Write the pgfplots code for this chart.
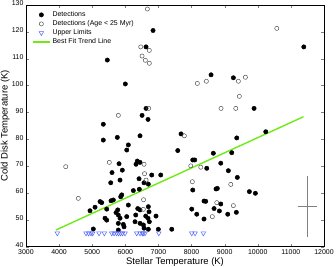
\documentclass[border=0pt]{standalone}
\usepackage{pgfplots}
\pgfplotsset{compat=1.18}
\usepackage{fontspec}
\setmainfont{Liberation Sans}
\definecolor{trend}{RGB}{110,235,20}
\definecolor{ulim}{RGB}{80,100,255}
\definecolor{opengray}{RGB}{80,80,80}
\begin{document}
\begin{tikzpicture}
\begin{axis}[
 scale only axis, width=298bp, height=241.7bp,
 xmin=3000, xmax=12000, ymin=40, ymax=130,
 xtick={3000,4000,...,12000}, ytick={40,50,...,130},
 scaled x ticks=false, scaled y ticks=false,
 tick align=inside, major tick length=3bp,
 /pgf/number format/assume math mode=true,
 /pgf/number format/1000 sep={},
 tick label style={font=\fontsize{7}{8}\selectfont},
 xticklabel style={yshift=0.8bp},
 yticklabel style={xshift=1bp, yshift=1.6bp},
 label style={font=\fontsize{9.5}{11}\selectfont},
 xlabel={Stellar Temperature (K)}, ylabel={Cold Disk Temperature (K)},
 xlabel style={at={(axis description cs:0.5,0)}, anchor=north, yshift=-7.5bp},
 ylabel style={at={(axis description cs:-0.0436,0.5)}, anchor=south},
 axis line style={black, line width=0.6pt},
 legend cell align=left,
 legend style={at={(0.01,0.99)}, anchor=north west, draw=none, fill=none,
   font=\fontsize{7}{8}\selectfont, row sep=-1.5bp},
]
\addplot[only marks, mark=*, mark size=2.2bp, black] coordinates {
(5456,109.5)(6000,100.6)(6837,120.5)(6625,114.4)(5335,85.6)(6505,88.9)(6625,91.5)(6685,87.4)
(5335,79.7)(5758,80.7)(6444,81.3)(6091,77.9)(6042,76.0)(5810,70.9)(6362,71.9)(6444,71.4)
(6323,70.7)(5909,68.5)(5598,67.6)(7069,66.7)(5559,63.8)(5840,64.8)(6414,65.3)(6565,63.8)
(6695,63.3)(6242,60.9)(6423,61.4)(5891,59.3)(5861,58.6)(5637,57.4)(5568,57.1)(5236,56.8)
(5287,56.4)(5085,54.7)(4933,53.4)(5438,54.0)(5770,53.7)(5719,52.7)(6091,55.5)(6375,54.2)
(6444,53.7)(6695,54.9)(6716,53.0)(5387,50.6)(5438,49.9)(5788,51.8)(5840,50.6)(6042,51.2)
(6314,51.8)(6616,51.4)(6927,51.4)(5788,48.7)(5939,48.3)(5961,47.4)(6293,49.3)(6444,48.7)
(6544,48.1)(6565,46.9)(6695,46.5)(5788,46.2)(5033,46.6)(6997,46.5)(6686,50.6)(6725,49.3)
(6797,66.7)(7402,46.5)
(7683,82.0)(9365,80.5)(10241,82.8)(7583,75.8)(8036,72.3)(8096,72.3)(8658,74.8)(9214,75.0)
(8459,69.2)(8882,71.1)(9111,68.3)(9383,65.8)(8036,61.1)(8740,61.5)(8779,61.7)(9746,60.5)
(9927,59.9)(8377,57.0)(8429,56.9)(8882,55.9)(8006,54.0)(8680,54.2)(8840,53.3)(8157,52.1)
(8377,50.3)(9093,52.1)(9353,52.8)(11390,114.4)(8589,104.0)(9263,102.9)(9888,91.5)
};
\addlegendentry{Detections}
\addplot[only marks, mark=o, mark size=2.1bp, opengray, mark options={line width=0.5pt}] coordinates {
(6665,128.5)(6465,114.4)(6725,113.1)(6505,111.0)(6605,109.4)(6725,108.3)(5790,88.9)(6705,91.5)
(4199,69.8)(4580,58.0)(5517,71.4)(6565,70.7)(6580,67.2)(6626,64.8)(6550,57.5)(6544,53.9)
(7782,81.3)(7976,70.1)(8278,69.6)(8024,64.2)(9184,63.2)(8761,56.4)(9263,55.3)(8628,51.2)
(10574,121.3)(8175,100.8)(8447,101.6)(9414,101.6)(9626,103.1)(9444,96.0)(8891,91.5)(9335,91.5)
};
\addlegendentry{Detections (Age < 25 Myr)}
\addplot[only marks, mark=triangle, mark size=2.6bp, ulim, mark options={rotate=180, line width=0.5pt}] coordinates {
(3946,45)(4813,45)(4889,45)(4964,45)(5015,45)(5205,45)(5366,45)(5589,45)(5658,45)(5734,45)(5795,45)
(5855,45)(5915,45)(5991,45)(6344,45)(6444,45)(6513,45)(6544,45)(6595,45)(7010,45)
(8006,45)(8106,45)(8356,45)
};
\addlegendentry{Upper Limits}
\addplot[trend, line width=1.4pt, no marks] coordinates {(3900,46.2)(11380,88.4)};
\addlegendentry{Best Fit Trend Line}
\addplot[gray, no marks, forget plot, line width=0.6pt,
  error bars/.cd, y dir=both, y explicit,
  error bar style={gray, line width=0.6pt},
  error mark options={gray, mark size=4bp, line width=0.6pt}]
  coordinates {(11500,55) +- (0,10)};
\addplot[gray, no marks, forget plot, line width=0.6pt,
  error bars/.cd, x dir=both, x explicit,
  error bar style={gray, line width=0.6pt},
  error mark options={gray, mark size=2.7bp, line width=0.6pt}]
  coordinates {(11500,55) +- (210,0)};
\end{axis}
\pgfresetboundingbox
\useasboundingbox (-26bp,-20.3bp) rectangle (310bp,246.7bp);
\end{tikzpicture}
\end{document}
